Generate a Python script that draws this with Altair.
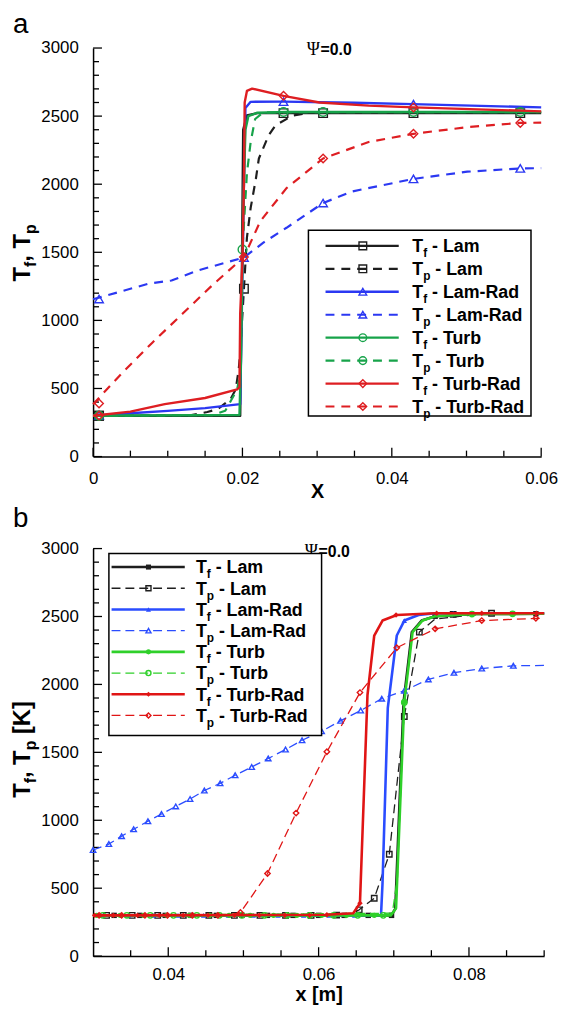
import altair as alt
import pandas as pd

FONT = "Liberation Sans"

# ---------------- shared series descriptors ----------------
LABELS = ["Lam", "Lam", "Lam-Rad", "Lam-Rad", "Turb", "Turb", "Turb-Rad", "Turb-Rad"]
KINDS = ["f", "p", "f", "p", "f", "p", "f", "p"]
SHAPES = ["square", "square", "triangle-up", "triangle-up", "circle", "circle", "diamond", "diamond"]
DASHED = [False, True, False, True, False, True, False, True]

# ---------------- panel a data ----------------
A_TF_LAM_X = [0, 0.0197, 0.0199, 0.0201, 0.0206, 0.022, 0.06]
A_TF_LAM_T = [300, 300, 1200, 2400, 2505, 2522, 2522]
A_TF_LAM_MX = [0.0008, 0.0255, 0.0308, 0.0429, 0.0572]
A_TF_LAM_MT = [300, 2522, 2522, 2522, 2522]

A_TP_LAM_X = [0, 0.013, 0.0153, 0.0167, 0.0184, 0.0191, 0.0195, 0.0197, 0.0202, 0.0206, 0.0211, 0.0218,
              0.0222, 0.0235, 0.0244, 0.0267, 0.0292, 0.06]
A_TP_LAM_T = [300, 303, 327, 349, 421, 494, 639, 762, 1233, 1608, 1826, 2040, 2189, 2358, 2431, 2504, 2525, 2525]
A_TP_LAM_MX = [0.0008, 0.0202]
A_TP_LAM_MT = [300, 1233]

A_TF_LR_X = [0, 0.005, 0.01, 0.015, 0.0197, 0.0199, 0.0202, 0.0204, 0.0211, 0.0255, 0.035, 0.0428, 0.06]
A_TF_LR_T = [300, 318, 336, 356, 385, 1000, 2000, 2560, 2605, 2606, 2598, 2588, 2564]
A_TF_LR_MX = [0.0008, 0.0255, 0.0429]
A_TF_LR_MT = [302, 2606, 2588]

A_TP_LR_X = [0, 0.0074, 0.0105, 0.014, 0.0202, 0.0228, 0.0259, 0.0308, 0.0347, 0.0429, 0.0501, 0.0572, 0.06]
A_TP_LR_T = [1155, 1269, 1293, 1366, 1462, 1571, 1680, 1862, 1947, 2039, 2092, 2116, 2118]
A_TP_LR_MX = [0.0008, 0.0202, 0.0308, 0.0429, 0.0572]
A_TP_LR_MT = [1157, 1462, 1862, 2039, 2116]

A_TF_TU_X = [0, 0.0196, 0.0198, 0.0201, 0.0204, 0.0208, 0.022, 0.026, 0.06]
A_TF_TU_T = [300, 305, 700, 1800, 2400, 2500, 2525, 2530, 2530]
A_TF_TU_MX = [0.0008, 0.0255, 0.0308, 0.0429, 0.0572]
A_TF_TU_MT = [300, 2530, 2530, 2530, 2530]

A_TP_TU_X = [0, 0.016, 0.0177, 0.0193, 0.0197, 0.01985, 0.02, 0.0206, 0.0211, 0.0217, 0.0228, 0.06]
A_TP_TU_T = [300, 305, 336, 494, 615, 1000, 1520, 2080, 2310, 2479, 2528, 2530]
A_TP_TU_MX = [0.0008, 0.02]
A_TP_TU_MT = [300, 1520]

A_TF_TR_X = [0, 0.005, 0.0096, 0.015, 0.0193, 0.0196, 0.0197, 0.02, 0.0202, 0.0203, 0.0206, 0.0213,
             0.0255, 0.0303, 0.0369, 0.0429, 0.0572, 0.06]
A_TF_TR_T = [300, 330, 385, 430, 494, 510, 1051, 1438, 2019, 2600, 2685, 2702, 2649, 2600, 2577, 2564, 2540, 2535]
A_TF_TR_MX = [0.0008, 0.0255, 0.0429]
A_TF_TR_MT = [302, 2649, 2564]

A_TP_TR_X = [0, 0.004, 0.008, 0.012, 0.016, 0.0202, 0.0224, 0.0259, 0.0308, 0.0369, 0.0429, 0.0501, 0.0572, 0.06]
A_TP_TR_T = [385, 620, 840, 1050, 1260, 1465, 1729, 1971, 2189, 2310, 2370, 2419, 2450, 2452]
A_TP_TR_MX = [0.0008, 0.0202, 0.0308, 0.0429, 0.0572]
A_TP_TR_MT = [390, 1465, 2189, 2370, 2450]

# ---------------- panel b data ----------------
B_TF_LAM_X = [0.03, 0.0697, 0.0702, 0.0713, 0.0724, 0.0737, 0.0755, 0.081, 0.09]
B_TF_LAM_T = [300, 300, 350, 1870, 2385, 2470, 2502, 2518, 2520]
B_TF_LAM_MX = [0.0328, 0.0362, 0.0396, 0.043, 0.0464, 0.0498, 0.0532, 0.0566, 0.06, 0.0634, 0.0666, 0.0697,
               0.0755, 0.0889]
B_TF_LAM_MT = [300, 300, 300, 300, 300, 300, 300, 300, 300, 300, 300, 300, 2502, 2520]

B_TP_LAM_X = [0.03, 0.064, 0.0654, 0.0674, 0.0694, 0.0714, 0.0734, 0.0755, 0.083, 0.09]
B_TP_LAM_T = [300, 305, 341, 426, 750, 1764, 2385, 2482, 2524, 2524]
B_TP_LAM_MX = [0.0318, 0.0352, 0.0386, 0.042, 0.0454, 0.0488, 0.0522, 0.0556, 0.059, 0.0624, 0.0654, 0.0674,
               0.0694, 0.0714, 0.0734, 0.0779, 0.083]
B_TP_LAM_MT = [300, 300, 300, 300, 300, 300, 300, 300, 300, 302, 341, 426, 750, 1764, 2385, 2515, 2524]

B_TF_LR_X = [0.03, 0.0683, 0.0685, 0.0692, 0.0704, 0.0714, 0.0733, 0.0755, 0.09]
B_TF_LR_T = [300, 300, 535, 1825, 2360, 2470, 2511, 2524, 2524]
B_TF_LR_MX = [0.0312, 0.0347, 0.038, 0.0413, 0.0447, 0.048, 0.0513, 0.0546, 0.058, 0.0614, 0.0648, 0.0714, 0.0779]
B_TF_LR_MT = [300, 300, 300, 300, 300, 300, 300, 300, 300, 300, 300, 2470, 2524]

B_TP_LR_X = [0.03, 0.0321, 0.0338, 0.0354, 0.0373, 0.0391, 0.041, 0.0429, 0.0448, 0.0469, 0.0489, 0.0511,
             0.0533, 0.0556, 0.0578, 0.0604, 0.0629, 0.0656, 0.0684, 0.0714, 0.0746, 0.078, 0.0817, 0.0859, 0.09]
B_TP_LR_T = [781, 825, 883, 934, 993, 1046, 1102, 1156, 1219, 1272, 1331, 1392, 1455, 1521, 1589, 1655, 1732,
             1808, 1895, 1954, 2037, 2086, 2117, 2137, 2140]
B_TP_LR_MX = B_TP_LR_X[:-1]
B_TP_LR_MT = B_TP_LR_T[:-1]

B_TF_TU_X = [0.03, 0.0696, 0.0703, 0.0714, 0.0725, 0.0738, 0.0755, 0.0808, 0.09]
B_TF_TU_T = [300, 300, 353, 1874, 2385, 2470, 2502, 2518, 2520]
B_TF_TU_MX = [0.0305, 0.0336, 0.0367, 0.0398, 0.0428, 0.0455, 0.0481, 0.0509, 0.054, 0.0571, 0.0604, 0.0637,
              0.0674, 0.0714, 0.0804, 0.0858]
B_TF_TU_MT = [300, 300, 300, 300, 300, 300, 300, 300, 300, 300, 300, 300, 300, 1874, 2518, 2520]

B_TP_TU_X = [0.03, 0.0698, 0.0705, 0.071, 0.0714, 0.0725, 0.0738, 0.0755, 0.081, 0.09]
B_TP_TU_T = [300, 316, 584, 1400, 1867, 2385, 2465, 2500, 2518, 2520]
B_TP_TU_MX = [0.0313, 0.0345, 0.0376, 0.0407, 0.0438, 0.0468, 0.0498, 0.0528, 0.0558, 0.0588, 0.062, 0.0652,
              0.0686, 0.0714, 0.0804, 0.0858]
B_TP_TU_MT = [300, 300, 300, 300, 300, 300, 300, 300, 300, 300, 300, 300, 300, 1867, 2518, 2520]

B_TF_TR_X = [0.03, 0.0611, 0.0646, 0.0655, 0.0665, 0.0674, 0.0685, 0.0704, 0.0755, 0.09]
B_TF_TR_T = [300, 304, 316, 389, 1922, 2360, 2470, 2511, 2524, 2524]
B_TF_TR_MX = [0.0302, 0.0327, 0.0359, 0.0388, 0.042, 0.0453, 0.0488, 0.0521, 0.0555, 0.0588, 0.0611, 0.0655,
              0.0703, 0.0757, 0.0817, 0.089]
B_TF_TR_MT = [300, 300, 300, 300, 300, 300, 300, 300, 300, 300, 304, 389, 2511, 2524, 2524, 2524]

B_TP_TR_X = [0.03, 0.048, 0.0496, 0.0532, 0.057, 0.0611, 0.0655, 0.0704, 0.0755, 0.0817, 0.09]
B_TP_TR_T = [300, 302, 321, 608, 1053, 1504, 1940, 2270, 2409, 2470, 2488]
B_TP_TR_MX = [0.0308, 0.0338, 0.0369, 0.0399, 0.0432, 0.0466, 0.0496, 0.0532, 0.057, 0.0611, 0.0655, 0.0704,
              0.0755, 0.0817, 0.0889]
B_TP_TR_MT = [300, 300, 300, 300, 300, 300, 321, 608, 1053, 1504, 1940, 2270, 2409, 2470, 2487]

# ---------------- axis tick values ----------------
A_X_LABELS = [0, 0.02, 0.04, 0.06]
A_X_MINOR = [0.005, 0.01, 0.015, 0.025, 0.03, 0.035, 0.045, 0.05, 0.055]
B_X_LABELS = [0.04, 0.06, 0.08]
B_X_MINOR = [0.035, 0.045, 0.05, 0.055, 0.065, 0.07, 0.075, 0.085, 0.09]
Y_LABELS = [0, 500, 1000, 1500, 2000, 2500, 3000]
Y_MINOR = [v for v in range(100, 3000, 100) if v % 500 != 0]

DUMMY = pd.DataFrame({"d": [0]})

# Arial/Liberation bold advance widths (em)
BOLD_W = {"T": .611, "f": .333, "p": .611, " ": .278, "-": .333, ",": .278, "L": .611, "a": .556, "m": .889,
          "R": .722, "d": .611, "u": .611, "r": .389, "b": .611, "[": .333, "]": .333, "K": .722}


def twidth(s, size):
    return sum(BOLD_W.get(c, .6) for c in s) * size


def txt(text, x, y, size, weight="normal", font=FONT, angle=None, align="left", baseline="alphabetic",
        color="black"):
    kw = dict(text=text, fontSize=size, fontWeight=weight, font=font, align=align, baseline=baseline, color=color)
    if angle is not None:
        kw["angle"] = angle
    return alt.Chart(DUMMY).mark_text(**kw).encode(x=alt.value(x), y=alt.value(y))


def subtext(pieces, x, y, size, subsize, subshift, rotated=False):
    """pieces: list of (string, is_subscript). Leading spaces become explicit offsets."""
    layers = []
    pos = 0.0
    for s, sub in pieces:
        fs = subsize if sub else size
        stripped = s.lstrip(" ")
        pos += twidth(s[:len(s) - len(stripped)], fs)
        if rotated:
            layers.append(txt(stripped, x + (subshift if sub else 0), y - pos, fs, "bold", angle=270))
        else:
            layers.append(txt(stripped, x + pos, y + (subshift if sub else 0), fs, "bold"))
        pos += twidth(stripped, fs)
    return layers


def build_panel(P):
    W, H = P["W"], P["H"]
    axis_common = dict(domainColor="black", domainWidth=1.5, ticks=False, tickSize=0, grid=False,
                       labelFont=FONT, labelFontSize=17, labelColor="black", labelFlush=False,
                       titleFont=FONT, titleColor="black")
    X = alt.X("x:Q", scale=alt.Scale(domain=P["xdom"], nice=False, zero=False),
              axis=alt.Axis(values=P["xlabels"], format="~g", title=P["xtitle"], titleFontSize=20,
                            titleFontWeight="bold", titleY=P["xtitley"], titleBaseline="top",
                            labelPadding=P["xlabpad"], **axis_common))
    Y = alt.Y("T:Q", scale=alt.Scale(domain=[0, 3000], nice=False, zero=True),
              axis=alt.Axis(values=Y_LABELS, format="d", title=None, labelPadding=15, **axis_common))
    layers = []
    # ticks (inward)
    layers.append(alt.Chart(pd.DataFrame({"x": P["xlabels"]})).mark_rule(color="black", strokeWidth=1.3)
                  .encode(x=X, y=alt.value(H), y2=alt.value(H - 9)))
    layers.append(alt.Chart(pd.DataFrame({"x": P["xminor"]})).mark_rule(color="black", strokeWidth=1.3)
                  .encode(x=X, y=alt.value(H), y2=alt.value(H - 6)))
    layers.append(alt.Chart(pd.DataFrame({"T": Y_LABELS})).mark_rule(color="black", strokeWidth=1.3)
                  .encode(y=Y, x=alt.value(0), x2=alt.value(9)))
    layers.append(alt.Chart(pd.DataFrame({"T": Y_MINOR})).mark_rule(color="black", strokeWidth=1.3)
                  .encode(y=Y, x=alt.value(0), x2=alt.value(6)))
    # series
    for k, s in enumerate(P["series"]):
        xs, ts, mx, mt = s
        color = P["colors"][k]
        dashed = DASHED[k]
        df = pd.DataFrame({"x": xs, "T": ts, "i": list(range(len(xs)))})
        kw = dict(color=color, strokeWidth=P["dw"] if dashed else P["sw"], strokeCap="butt", strokeJoin="round")
        if dashed:
            kw["strokeDash"] = P["dash"]
        layers.append(alt.Chart(df).mark_line(**kw).encode(x=X, y=Y, order="i:Q"))
        filled = P["filled"][k]
        mdf = pd.DataFrame({"x": mx, "T": mt})
        layers.append(alt.Chart(mdf).mark_point(shape=SHAPES[k], filled=filled, color=color, size=P["msize"],
                                                strokeWidth=1.4, opacity=1).encode(x=X, y=Y))
    # title Psi=0.0
    px, py = P["psi"]
    layers.append(txt("\u03a8", px, py, 18, "normal", font="Liberation Serif"))
    layers.append(txt("=0.0", px + 14, py, 16, "bold"))
    # panel letters
    for letter, (lx, ly) in P["letters"]:
        layers.append(txt(letter, lx, ly, 28, "normal"))
    # y axis title (rotated, with subscripts)
    tx, ty = P["ytitle_pos"]
    layers += subtext(P["ytitle"], tx, ty, 24, 16, 6, rotated=True)
    # legend box
    bx0, by0, bx1, by1 = P["box"]
    layers.append(alt.Chart(DUMMY).mark_rect(fill="white", stroke="black", strokeWidth=1.5)
                  .encode(x=alt.value(bx0), x2=alt.value(bx1), y=alt.value(by0), y2=alt.value(by1)))
    ry0, rdy = P["rows"]
    lx0, lx1, lmx, ltx = P["legx"]
    for k in range(8):
        ry = ry0 + k * rdy
        color = P["colors"][k]
        kw = dict(color=color, strokeWidth=P["dw"] if DASHED[k] else P["sw"], strokeCap="butt")
        if DASHED[k]:
            kw["strokeDash"] = P["dash"]
        layers.append(alt.Chart(DUMMY).mark_rule(**kw)
                      .encode(x=alt.value(lx0), x2=alt.value(lx1), y=alt.value(ry)))
        layers.append(alt.Chart(DUMMY).mark_point(shape=SHAPES[k], filled=P["filled"][k], color=color,
                                                  size=P["lmsize"], strokeWidth=1.4, opacity=1)
                      .encode(x=alt.value(lmx), y=alt.value(ry)))
        layers += subtext([("T", False), (KINDS[k], True), (" - " + LABELS[k], False)],
                          ltx, ry + 6.5, 18, 12, 5)
    return alt.layer(*layers).properties(width=W, height=H)


PANEL_A = dict(
    W=453, H=413, xdom=[0, 0.06], xlabels=A_X_LABELS, xminor=A_X_MINOR, xtitle="X", xtitley=25, xlabpad=14,
    series=[(A_TF_LAM_X, A_TF_LAM_T, A_TF_LAM_MX, A_TF_LAM_MT),
            (A_TP_LAM_X, A_TP_LAM_T, A_TP_LAM_MX, A_TP_LAM_MT),
            (A_TF_LR_X, A_TF_LR_T, A_TF_LR_MX, A_TF_LR_MT),
            (A_TP_LR_X, A_TP_LR_T, A_TP_LR_MX, A_TP_LR_MT),
            (A_TF_TU_X, A_TF_TU_T, A_TF_TU_MX, A_TF_TU_MT),
            (A_TP_TU_X, A_TP_TU_T, A_TP_TU_MX, A_TP_TU_MT),
            (A_TF_TR_X, A_TF_TR_T, A_TF_TR_MX, A_TF_TR_MT),
            (A_TP_TR_X, A_TP_TR_T, A_TP_TR_MX, A_TP_TR_MT)],
    colors=["#1e1e1e", "#1e1e1e", "#2b38f2", "#2b38f2", "#17a34a", "#17a34a", "#de1e22", "#de1e22"],
    filled=[False] * 8, sw=2.4, dw=2.2, dash=[9, 7], msize=75, lmsize=60,
    psi=(216, 7), letters=[("a", (-81, -15)), ("b", (-81, 484))],
    ytitle=[("T", False), ("f", True), (", T", False), ("p", True)], ytitle_pos=(-64, 236),
    box=(217.7, 184.3, 442.7, 372), rows=(200, 23.2), legx=(235, 309, 272.7, 322.7),
)

PANEL_B = dict(
    W=456, H=412, xdom=[0.03, 0.09], xlabels=B_X_LABELS, xminor=B_X_MINOR, xtitle="x [m]", xtitley=29,
    xlabpad=11,
    series=[(B_TF_LAM_X, B_TF_LAM_T, B_TF_LAM_MX, B_TF_LAM_MT),
            (B_TP_LAM_X, B_TP_LAM_T, B_TP_LAM_MX, B_TP_LAM_MT),
            (B_TF_LR_X, B_TF_LR_T, B_TF_LR_MX, B_TF_LR_MT),
            (B_TP_LR_X, B_TP_LR_T, B_TP_LR_MX, B_TP_LR_MT),
            (B_TF_TU_X, B_TF_TU_T, B_TF_TU_MX, B_TF_TU_MT),
            (B_TP_TU_X, B_TP_TU_T, B_TP_TU_MX, B_TP_TU_MT),
            (B_TF_TR_X, B_TF_TR_T, B_TF_TR_MX, B_TF_TR_MT),
            (B_TP_TR_X, B_TP_TR_T, B_TP_TR_MX, B_TP_TR_MT)],
    colors=["#1e1e1e", "#1e1e1e", "#2a4cff", "#2a4cff", "#2fd02a", "#2fd02a", "#e01515", "#e01515"],
    filled=[True, False, True, False, True, False, True, False], sw=2.6, dw=1.3, dash=[9, 5],
    msize=30, lmsize=26,
    psi=(214, 9), letters=[],
    ytitle=[("T", False), ("f", True), (", T", False), ("p", True), (" [K]", False)], ytitle_pos=(-64, 252),
    box=(16, 5, 231, 189), rows=(18.7, 21.43), legx=(18.7, 92.7, 56, 104),
)

chart = alt.vconcat(build_panel(PANEL_A), build_panel(PANEL_B), spacing=7).properties(
    padding={"left": 2, "top": -2, "right": 0, "bottom": 0}
).configure_view(stroke=None)

chart.save("out.html", embed_options={"renderer": "svg", "actions": False})
